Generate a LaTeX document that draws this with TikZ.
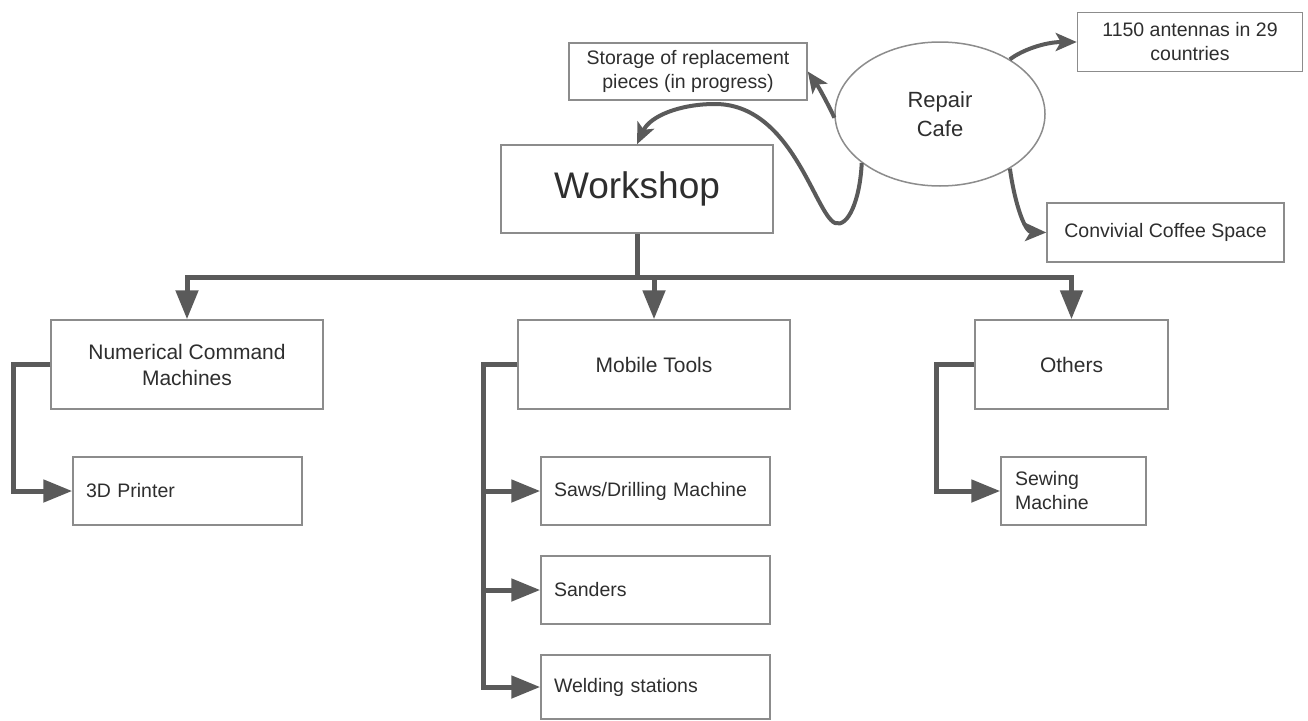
\documentclass[tikz,border=0pt]{standalone}
\usepackage{fontspec}
\setmainfont{Liberation Sans}
\usetikzlibrary{arrows.meta,shapes.geometric}
\definecolor{linec}{HTML}{5A5A5A}
\definecolor{boxc}{HTML}{8C8C8C}
\definecolor{txtc}{HTML}{2E2E2E}
\tikzset{
  box/.style={draw=boxc,line width=1.5pt,fill=white,text=txtc,inner sep=0pt,align=center},
  lbox/.style={draw=boxc,line width=1.5pt,fill=white,text=txtc,inner ysep=0pt,inner xsep=13pt,align=left},
  small/.style={font=\fontsize{19.5}{24}\selectfont},
  mid/.style={font=\fontsize{21}{26}\selectfont},
  link/.style={draw=linec,line width=5pt},
  treearr/.style={link,-{Triangle[length=29pt,width=22pt]}},
  curvearr/.style={draw=linec,line width=4pt,-{Stealth[length=21pt,width=18pt,inset=5pt]}},
}
\begin{document}
\begin{tikzpicture}[x=1pt,y=-1pt]
\useasboundingbox[fill=white] (0,0) rectangle (1308,720);

% top area
\node[box,small,minimum width=238,minimum height=57] (st) at (688,71.5) {Storage of replacement\\pieces (in progress)};
\node[draw=boxc,line width=1.5pt,fill=white,text=txtc,ellipse,minimum width=210,minimum height=144,inner sep=0pt,align=center,font=\fontsize{22}{29}\selectfont] (rc) at (940,114) {Repair\\Cafe};
\node[box,small,minimum width=225,minimum height=59] (an) at (1190,42) {1150 antennas in 29\\countries};
\node[box,small,minimum width=237,minimum height=59] (cf) at (1165.5,232.5) {Convivial Coffee Space};
\node[box,font=\fontsize{37}{44}\selectfont,minimum width=272,minimum height=88] (ws) at (637,189) {Workshop};

% second level
\node[box,mid,minimum width=272,minimum height=89] (nc) at (187,364.5) {Numerical Command\\Machines};
\node[box,mid,minimum width=272,minimum height=89] (mt) at (654,364.5) {Mobile Tools};
\node[box,mid,minimum width=193,minimum height=89] (ot) at (1071.5,364.5) {Others};

% leaves
\node[lbox,small,text width=203,minimum height=68] (pr) at (187.5,491) {3D Printer};
\node[lbox,small,text width=203,minimum height=68] (saw) at (655.5,491) {Saws/Drilling Machine};
\node[lbox,small,text width=203,minimum height=68] (san) at (655.5,590) {Sanders};
\node[lbox,small,text width=203,minimum height=64] (wel) at (655.5,687) {Welding stations};
\node[lbox,small,text width=117,inner xsep=14pt,minimum height=68] (sew) at (1073.5,491) {Sewing\\Machine};

% tree connectors
\coordinate (j) at (637,277);
\draw[link] (ws.south) -- (j);
\draw[treearr] (j) -| (nc.north);
\draw[treearr] (j) -| (mt.north);
\draw[treearr] (j) -| (ot.north);

\draw[treearr] (nc.west) -- ++(-37,0) |- (pr.west);
\draw[treearr] (mt.west) -- ++(-34,0) |- (saw.west);
\draw[treearr] (mt.west) -- ++(-34,0) |- (san.west);
\draw[treearr] (mt.west) -- ++(-34,0) |- (wel.west);
\draw[treearr] (ot.west) -- ++(-38,0) |- (sew.west);

% curved connectors from Repair Cafe
\draw[curvearr] (rc.182) .. controls (826,100) and (818,86) .. (st.east);
\draw[curvearr] (rc.38) .. controls (1022,50) and (1045,42) .. (an.west);
\draw[curvearr] (rc.-38) .. controls (1015,205) and (1025,232) .. (cf.west);
\draw[curvearr] (rc.212) .. controls (860,200) and (848,228) .. (835,223)
  .. controls (815,214) and (792,104) .. (715,104)
  .. controls (680,104) and (650,116) .. (ws.north);
\end{tikzpicture}
\end{document}
